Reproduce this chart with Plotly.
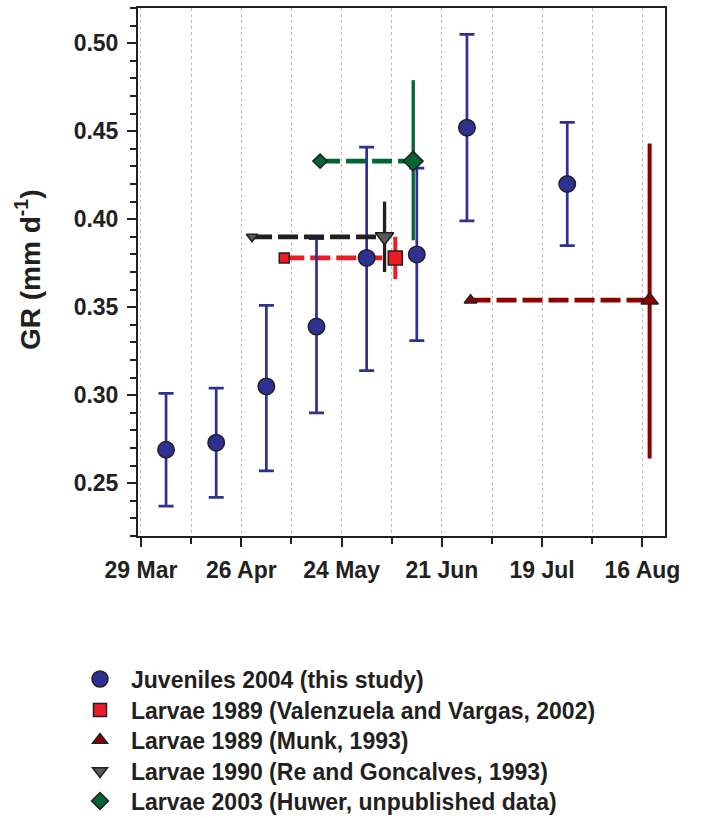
import plotly.graph_objects as go

# ---------------- data ----------------
juv_dates = ['2004-04-05', '2004-04-19', '2004-05-03', '2004-05-17',
             '2004-05-31', '2004-06-14', '2004-06-28', '2004-07-26']
juv_gr = [0.269, 0.273, 0.305, 0.339, 0.378, 0.380, 0.452, 0.420]
juv_hi = [0.301, 0.304, 0.351, 0.389, 0.441, 0.429, 0.505, 0.455]
juv_lo = [0.237, 0.242, 0.257, 0.290, 0.314, 0.331, 0.399, 0.385]

# larval series: start date, end date, growth rate, upper, lower
vv_dates = ['2004-05-08', '2004-06-08']
vv_gr = 0.378
vv_hi = 0.390
vv_lo = 0.366

munk_dates = ['2004-06-29', '2004-08-18']
munk_gr = 0.354
munk_hi = 0.443
munk_lo = 0.264

rg_dates = ['2004-04-29', '2004-06-05']
rg_gr = 0.390
rg_hi = 0.410
rg_lo = 0.370

huwer_dates = ['2004-05-18', '2004-06-13']
huwer_gr = 0.433
huwer_hi = 0.479
huwer_lo = 0.388

legend_names = ['Juveniles 2004 (this study)',
                'Larvae 1989 (Valenzuela and Vargas, 2002)',
                'Larvae 1989 (Munk, 1993)',
                'Larvae 1990 (Re and Goncalves, 1993)',
                'Larvae 2003 (Huwer, unpublished data)']

y_title = 'GR (mm d<sup>-1</sup>)'
x_tick_vals = ['2004-03-29', '2004-04-26', '2004-05-24', '2004-06-21',
               '2004-07-19', '2004-08-16']
x_tick_text = ['29 Mar', '26 Apr', '24 May', '21 Jun', '19 Jul', '16 Aug']
y_tick_vals = [0.25, 0.30, 0.35, 0.40, 0.45, 0.50]
y_tick_text = ['0.25', '0.30', '0.35', '0.40', '0.45', '0.50']

# ---------------- styles ----------------
BLUE = '#2E3192'
RED = '#ED1C24'
DRED = '#8E0000'
BLACK = '#231F20'
GREY = '#58595B'
GREEN = '#006633'
DASH = '20px,6px'
W, H = 701, 818
ML, MR, MT, MB = 138, 36, 8, 282
PW, PH = W - ML - MR, H - MT - MB

fig = go.Figure()


def larva(dates, gr, hi, lo, color, symbol, mfill, s_small, s_big, thick, lw=4.7):
    fig.add_trace(go.Scatter(
        x=dates, y=[gr, gr], mode='lines',
        line=dict(color=color, width=lw, dash=DASH),
        showlegend=False, hoverinfo='skip'))
    fig.add_trace(go.Scatter(
        x=[dates[1]], y=[gr], mode='markers',
        marker=dict(size=0.1, color='rgba(0,0,0,0)'),
        error_y=dict(type='data', symmetric=False, array=[hi - gr],
                     arrayminus=[gr - lo], width=0, thickness=thick,
                     color=color),
        showlegend=False, hoverinfo='skip'))
    fig.add_trace(go.Scatter(
        x=dates, y=[gr, gr], mode='markers',
        marker=dict(symbol=symbol, size=[s_small, s_big], color=mfill,
                    opacity=1, line=dict(color=BLACK, width=1.5)),
        showlegend=False))


larva(vv_dates, vv_gr, vv_hi, vv_lo, RED, 'square', RED, 10, 14, 4)

# juveniles
fig.add_trace(go.Scatter(
    x=juv_dates, y=juv_gr, mode='markers',
    marker=dict(symbol='circle', size=16.5, color=BLUE, opacity=1,
                line=dict(color=BLACK, width=1.5)),
    error_y=dict(type='data', symmetric=False,
                 array=[h - g for h, g in zip(juv_hi, juv_gr)],
                 arrayminus=[g - l for g, l in zip(juv_gr, juv_lo)],
                 width=7.5, thickness=2.7, color=BLUE),
    showlegend=False))

larva(rg_dates, rg_gr, rg_hi, rg_lo, BLACK, 'triangle-down', GREY, 10, 16, 3.3)
larva(huwer_dates, huwer_gr, huwer_hi, huwer_lo, GREEN, 'diamond', GREEN, 11, 15, 3.3)
larva(munk_dates, munk_gr, munk_hi, munk_lo, DRED, 'triangle-up', DRED, 11, 15, 4)

# legend-only entries, each in its own legend so rows can be placed precisely
leg_specs = [('circle', BLUE, 16), ('square', RED, 13), ('triangle-up', DRED, 13),
             ('triangle-down', GREY, 13), ('diamond', GREEN, 13)]
leg_ids = ['legend', 'legend2', 'legend3', 'legend4', 'legend5']
row_center_px = [680, 711, 741, 772, 802]
for name, (sym, col, sz), lid in zip(legend_names, leg_specs, leg_ids):
    fig.add_trace(go.Scatter(
        x=[None], y=[None], mode='markers', name=name, legend=lid,
        marker=dict(symbol=sym, size=sz, color=col, opacity=1,
                    line=dict(color=BLACK, width=1.5))))

legend_layout = {}
for lid, cy in zip(leg_ids, row_center_px):
    top_px = cy - 22.5
    legend_layout[lid] = dict(
        x=(69 - ML) / PW, y=(H - MB - top_px) / PH,
        xanchor='left', yanchor='top',
        font=dict(size=23), itemwidth=52, bgcolor='rgba(0,0,0,0)',
        borderwidth=0)

DAY = 86400000
fig.update_layout(
    width=W, height=H,
    margin=dict(l=ML, r=MR, t=MT, b=MB, autoexpand=False),
    paper_bgcolor='white', plot_bgcolor='white',
    font=dict(family='Liberation Sans, Arial, sans-serif', size=23,
              color=BLACK, weight='bold'),
    showlegend=True,
    xaxis=dict(
        type='date', range=['2004-03-28 04:00', '2004-08-22 07:00'],
        tickmode='array', tickvals=x_tick_vals, ticktext=x_tick_text,
        ticks='outside', ticklen=9, tickwidth=2, tickcolor=BLACK,
        showline=True, linewidth=2, linecolor=BLACK, mirror=True,
        showgrid=True, gridcolor='#BBBBBB', griddash='dot', gridwidth=1,
        zeroline=False,
        minor=dict(tick0='2004-03-29', dtick=14 * DAY, ticks='outside',
                   ticklen=6, tickwidth=2, tickcolor=BLACK,
                   showgrid=True, gridcolor='#BBBBBB', griddash='dot',
                   gridwidth=1),
        ticklabelstandoff=3,
    ),
    yaxis=dict(
        range=[0.22, 0.52],
        tickmode='array', tickvals=y_tick_vals, ticktext=y_tick_text,
        ticks='outside', ticklen=9, tickwidth=2, tickcolor=BLACK,
        showline=True, linewidth=2, linecolor=BLACK, mirror=True,
        showgrid=False, zeroline=False,
        minor=dict(dtick=0.01, tick0=0.22, ticks='outside', ticklen=6,
                   tickwidth=1.5, tickcolor=BLACK, showgrid=False),
        ticklabelstandoff=4,
    ),
    annotations=[dict(
        text=y_title, xref='paper', yref='paper',
        x=(28 - ML) / PW, y=(H - MB - 270) / PH,
        xanchor='center', yanchor='middle', textangle=-90,
        showarrow=False, font=dict(size=28))],
    **legend_layout,
)

fig.write_html('out.html')
